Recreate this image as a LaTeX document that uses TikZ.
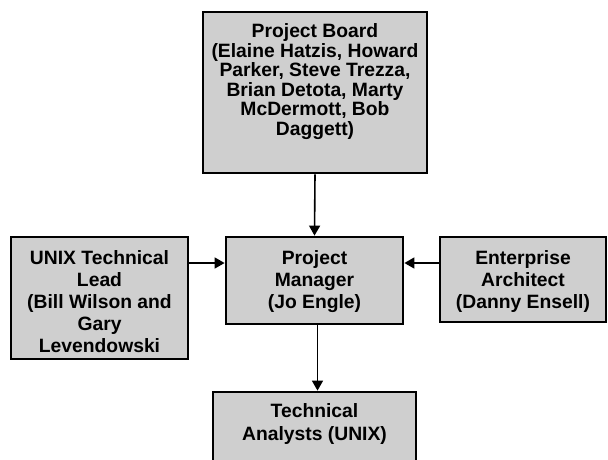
\documentclass[tikz,border=0pt]{standalone}
\usepackage{fontspec}
\setmainfont{Liberation Sans}
\usetikzlibrary{arrows.meta,calc}
\newcommand{\boxtxt}[4]{\parbox[c][#1][t]{#2}{\centering\vspace*{#3}#4\par}}
\begin{document}
\begin{tikzpicture}[x=1pt,y=-1pt,
  orgbox/.style={draw=black, line width=2.8pt, fill=black!19, inner sep=0pt,
    font=\bfseries\fontsize{19.3}{22}\selectfont},
  arr/.style={line width=1.6pt, -{Triangle[length=10pt,width=11pt]}}]
\useasboundingbox[fill=white] (0,0) rectangle (608,459);
\node[orgbox, font=\bfseries\fontsize{19.3}{19.6}\selectfont] (pb) at (315,92.5)
  {\boxtxt{161pt}{224pt}{11.5pt}{Project Board\\(Elaine Hatzis, Howard\\Parker, Steve Trezza,\\Brian Detota, Marty\\McDermott, Bob\\Daggett)}};
\node[orgbox] (unix) at (99.5,298)
  {\boxtxt{122pt}{177pt}{14pt}{UNIX Technical\\Lead\\(Bill Wilson and\\Gary\\Levendowski}};
\node[orgbox] (pm) at (314.5,280.5)
  {\boxtxt{87pt}{177pt}{14pt}{Project\\Manager\\(Jo Engle)}};
\node[orgbox] (ea) at (523,279.5)
  {\boxtxt{85pt}{166pt}{14pt}{Enterprise\\Architect\\(Danny Ensell)}};
\node[orgbox, font=\bfseries\fontsize{19.3}{23}\selectfont] (ta) at (314.5,436)
  {\boxtxt{88pt}{203pt}{12pt}{Technical\\Analysts (UNIX)}};
\coordinate (ya) at ([yshift=17.5pt]pm.west);
\coordinate (yb) at ([yshift=17.5pt]pm.east);
\draw[arr] (pb.south) -- (pm.north);
\draw[arr] (unix.east |- ya) -- (ya);
\draw[arr] (ea.west |- yb) -- (yb);
\draw[arr] ([xshift=3pt]pm.south) -- ([xshift=3pt]pm.south |- ta.north);
\end{tikzpicture}
\end{document}
